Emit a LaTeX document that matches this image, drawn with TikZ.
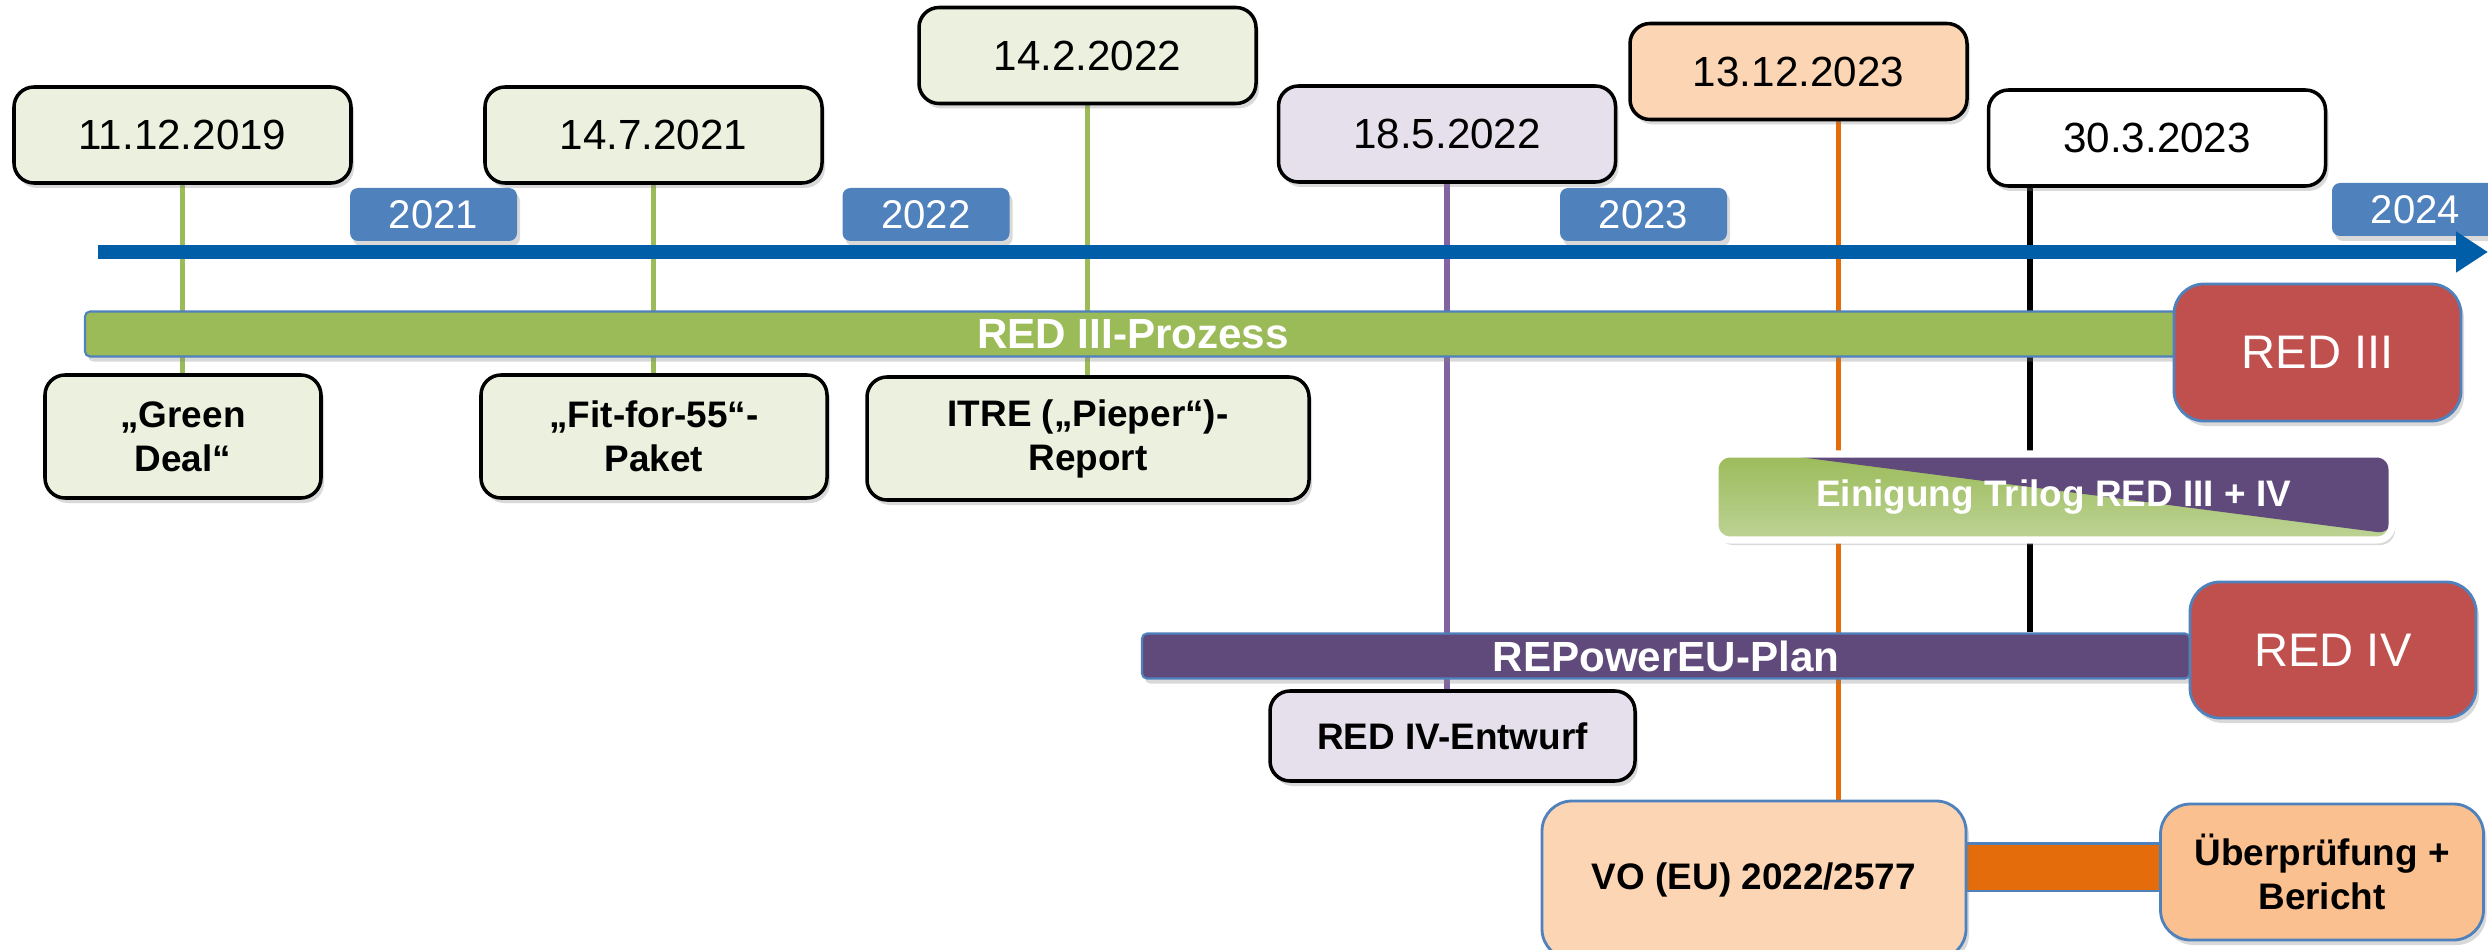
\documentclass[tikz,border=0pt]{standalone}
\usepackage{fontspec}
\setmainfont{Liberation Sans}
\usepackage{xcolor}
\usepackage{tikz}
\usetikzlibrary{arrows.meta,shadows,backgrounds,calc}

\definecolor{datefill}{HTML}{EBF1DE}
\definecolor{lavfill}{HTML}{E5E0EC}
\definecolor{peachfill}{HTML}{FCD5B5}
\definecolor{peachdark}{HTML}{FAC090}
\definecolor{yearblue}{HTML}{4F81BD}
\definecolor{axisblue}{HTML}{005EA8}
\definecolor{bargreen}{HTML}{9BBB59}
\definecolor{barlight}{HTML}{BDD396}
\definecolor{barpurple}{HTML}{604A7B}
\definecolor{linepurple}{HTML}{8064A2}
\definecolor{redbox}{HTML}{C0504D}
\definecolor{orangebar}{HTML}{E46C0A}

\begin{document}
\begin{tikzpicture}[font=\fontsize{12}{14}\selectfont]
	\useasboundingbox (0,0) rectangle (24.88,-9.5);
	% Define styles
	\tikzstyle{shade}=[drop shadow={shadow xshift=0.03cm, shadow yshift=-0.05cm, opacity=0.3}]
	\tikzstyle{datebox}=[rectangle, rounded corners=0.2cm, draw=black, line width=1pt, fill=datefill, minimum width=3.37cm, minimum height=0.96cm, inner sep=0pt, shade]
	\tikzstyle{labelbox}=[rectangle, rounded corners=0.2cm, draw=black, line width=1pt, fill=datefill, minimum height=1.23cm, inner sep=0pt, align=center, font=\fontsize{10.5}{12.5}\selectfont\bfseries, shade]
	\tikzstyle{yearbox}=[rectangle, rounded corners=0.08cm, fill=yearblue, text=white, minimum width=1.67cm, minimum height=0.53cm, inner sep=0pt, font=\fontsize{11.4}{13}\selectfont, shade]
	\tikzstyle{bar}=[rectangle, rounded corners=0.05cm, draw=yearblue, line width=0.6pt, text=white, minimum height=0.45cm, inner sep=0pt, font=\fontsize{12}{14}\selectfont\bfseries, shade]
	\tikzstyle{redbox}=[rectangle, rounded corners=0.3cm, draw=yearblue, line width=0.8pt, fill=redbox, text=white, minimum width=2.87cm, minimum height=1.37cm, inner sep=0pt, font=\fontsize{13.4}{16}\selectfont, shade]
	\tikzstyle{vobox}=[rectangle, rounded corners=0.3cm, draw=yearblue, line width=0.8pt, inner sep=0pt, align=center, font=\fontsize{10.5}{12.5}\selectfont\bfseries, shade]
	\tikzstyle{timeline}=[line width=0.135cm, draw=axisblue, -{Triangle[length=0.32cm, width=0.39cm]}]
	\tikzstyle{vline}=[line width=1.5pt]

	% dates on top
	\node[datebox] (d2019) at (1.825,-1.35) {11.12.2019};
	\node[datebox] (d2021) at (6.535,-1.35) {14.7.2021};
	\node[datebox] (d2022a) at (10.875,-0.555) {14.2.2022};
	\node[datebox, fill=lavfill] (d2022b) at (14.47,-1.34) {18.5.2022};
	\node[datebox, fill=peachfill] (d2023a) at (17.985,-0.715) {13.12.2023};
	\node[datebox, fill=white] (d2023b) at (21.57,-1.38) {30.3.2023};

	% years and time axis
	\node[yearbox] (y2021) at (4.335,-2.145) {2021};
	\node[yearbox] (y2022) at (9.26,-2.145) {2022};
	\node[yearbox] (y2023) at (16.435,-2.145) {2023};
	\node[yearbox] (y2024) at (24.155,-2.095) {2024};
	\coordinate (tstart) at (0.98,-2.52);
	\coordinate (tend) at (24.88,-2.52);
	\draw[timeline] (tstart) -- (tend);

	% RED III
	\node[bar, fill=bargreen, minimum width=20.96cm] (prozess) at (11.33,-3.34) {RED III-Prozess};
	\node[redbox] (red3) at (23.175,-3.525) {RED III};
	\node[labelbox, minimum width=2.76cm] (greendeal) at (1.83,-4.365) {„Green\\Deal“};
	\node[labelbox, minimum width=3.46cm] (fitfor) at (6.54,-4.365) {„Fit-for-55“-\\Paket};
	\node[labelbox, minimum width=4.42cm] (itre) at (10.88,-4.385) {ITRE („Pieper“)-\\Report};

	% trilog
	\node[rectangle, rounded corners=0.15cm, draw=white, line width=2pt, minimum width=6.77cm, minimum height=0.86cm, inner sep=0pt, text=white, font=\fontsize{10.5}{12.5}\selectfont\bfseries, shade,
		path picture={
			\shade[top color=bargreen, bottom color=barlight] (path picture bounding box.south west) rectangle (path picture bounding box.north east);
			\fill[barpurple] ($(path picture bounding box.north west)!0.09!(path picture bounding box.north east)$) -- (path picture bounding box.north east) -- ($(path picture bounding box.south east)+(0,0.06)$) -- cycle;
		}] (trilog) at (20.535,-4.97) {Einigung Trilog RED III + IV};

	% RED IV
	\node[bar, fill=barpurple, minimum width=10.48cm] (repower) at (16.66,-6.56) {REPowerEU-Plan};
	\node[redbox, minimum width=2.86cm, minimum height=1.36cm] (red4) at (23.33,-6.5) {RED IV};
	\node[labelbox, fill=lavfill, minimum width=3.65cm, minimum height=0.9cm] (entwurf) at (14.525,-7.36) {RED IV-Entwurf};

	% regulation
	\draw[double=orangebar, double distance=0.45cm, draw=yearblue, line width=0.6pt] (17.6,-8.67) -- (22,-8.67);
	\node[vobox, fill=peachfill, minimum width=4.24cm, minimum height=1.58cm] (vo) at (17.54,-8.80) {VO (EU) 2022/2577};
	\node[vobox, fill=peachdark, minimum width=3.23cm, minimum height=1.36cm] (bericht) at (23.22,-8.72) {Überprüfung +\\Bericht};

	\begin{scope}[on background layer]
		\draw[vline, bargreen] (d2019.south) -- (d2019.south |- greendeal.north);
		\draw[vline, bargreen] (d2021.south) -- (d2021.south |- fitfor.north);
		\draw[vline, bargreen] (d2022a.south) -- (d2022a.south |- itre.north);
		\draw[vline, linepurple] (d2022b.south) -- (d2022b.south |- entwurf.north);
		\draw[vline, orangebar] ([xshift=0.4cm]d2023a.south) -- ([xshift=0.4cm]d2023a.south |- vo.north);
		\draw[vline, black] ([xshift=-1.27cm]d2023b.south) -- ([xshift=-1.27cm]d2023b.south |- repower.north);
	\end{scope}
\end{tikzpicture}
\end{document}
